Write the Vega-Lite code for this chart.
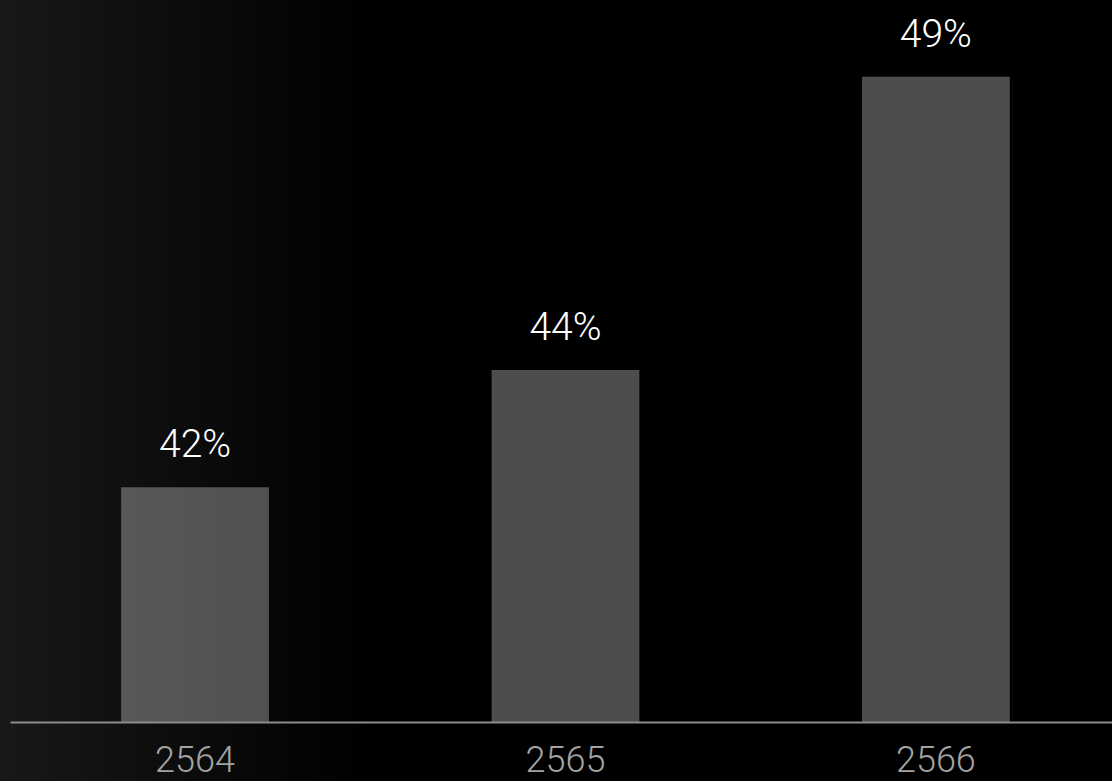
{
  "$schema": "https://vega.github.io/schema/vega-lite/v6.json",
  "width": 1112,
  "height": 781,
  "padding": 0,
  "autosize": {"type": "none"},
  "background": "#000000",
  "config": {"view": {"stroke": null}},
  "data": {"values": [
    {"year": "2564", "pct": 42, "label": "42%"},
    {"year": "2565", "pct": 44, "label": "44%"},
    {"year": "2566", "pct": 49, "label": "49%"}
  ]},
  "layer": [
    {
      "data": {"values": [{}]},
      "mark": {
        "type": "rect",
        "fill": {
          "gradient": "linear", "x1": 0, "x2": 1, "y1": 0, "y2": 0,
          "stops": [
            {"offset": 0, "color": "#181818"},
            {"offset": 0.33, "color": "#000000"},
            {"offset": 1, "color": "#000000"}
          ]
        }
      },
      "encoding": {}
    },
    {
      "mark": {"type": "bar", "color": "#ffffff", "opacity": 0.3},
      "encoding": {
        "x": {
          "field": "year", "type": "nominal",
          "scale": {"range": [10, 1112], "paddingInner": 0.601, "paddingOuter": 0.288, "align": 0.521},
          "axis": {
            "title": null, "orient": "bottom", "offset": -59, "zindex": 1,
            "ticks": false, "labelAngle": 0,
            "domainColor": "#8c8c8c", "domainWidth": 2,
            "labelColor": "#a3a3a3", "labelFont": "Roboto", "labelFontWeight": 300,
            "labelFontSize": 36, "labelBaseline": "alphabetic", "labelPadding": 49
          }
        },
        "y": {
          "field": "pct", "type": "quantitative",
          "scale": {"domain": [38, 49], "range": [722, 76.7], "zero": false, "nice": false},
          "axis": null
        },
        "y2": {"datum": 38}
      }
    },
    {
      "mark": {"type": "text", "color": "#ffffff", "font": "Roboto", "fontWeight": 300, "fontSize": 39, "baseline": "alphabetic", "dy": -30},
      "encoding": {
        "x": {"field": "year", "type": "nominal"},
        "y": {"field": "pct", "type": "quantitative"},
        "text": {"field": "label"}
      }
    }
  ]
}
